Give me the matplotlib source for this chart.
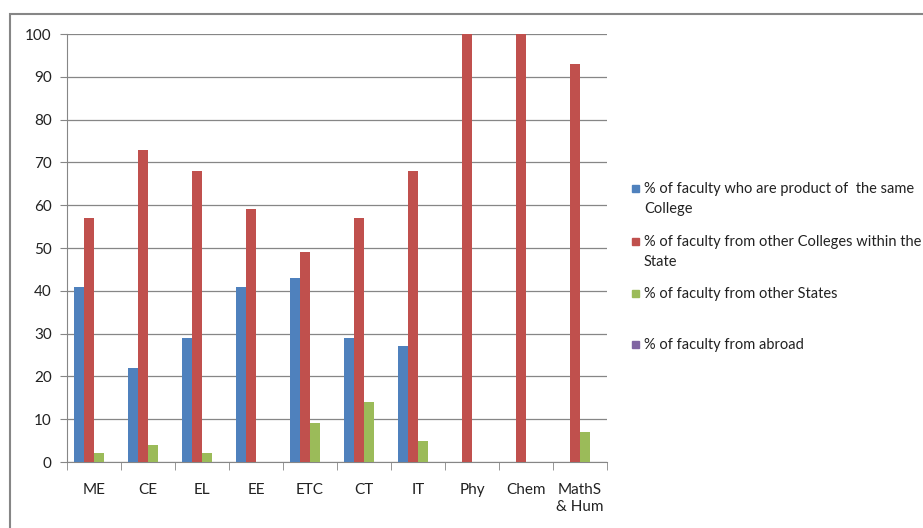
import matplotlib.pyplot as plt
from matplotlib.patches import Rectangle
import numpy as np

categories = ['ME', 'CE', 'EL', 'EE', 'ETC', 'CT', 'IT', 'Phy', 'Chem', 'MathS\n& Hum']
same_college = [41, 22, 29, 41, 43, 29, 27, 0, 0, 0]
other_colleges = [57, 73, 68, 59, 49, 57, 68, 100, 100, 93]
other_states = [2, 4, 2, 0, 9, 14, 5, 0, 0, 7]
abroad = [0, 0, 0, 0, 0, 0, 0, 0, 0, 0]

series_labels = ['% of faculty who are product of  the same\nCollege',
                 '% of faculty from other Colleges within the\nState',
                 '% of faculty from other States',
                 '% of faculty from abroad']
colors = ['#4F81BD', '#C0504D', '#9BBB59', '#8064A2']
series = [same_college, other_colleges, other_states, abroad]

plt.rcParams['font.family'] = ['Lato', 'DejaVu Sans']

fig = plt.figure(figsize=(9.23, 5.28), dpi=100, facecolor='white')
ax = fig.add_axes([67/923, 1 - 462/528, 540/923, 428/528])

x = np.arange(len(categories))
w = 1 / 5.5
for i, (vals, c) in enumerate(zip(series, colors)):
    ax.bar(x + (i - 1.5) * w, vals, width=w, color=c, zorder=3)

ax.set_xlim(-0.5, len(categories) - 0.5)
ax.set_ylim(0, 100)
ax.set_yticks(range(0, 101, 10))
ax.set_xticks(x)
ax.set_xticklabels(categories, fontsize=11, color='#222222', linespacing=1.3)
ax.tick_params(axis='x', length=0, pad=15)
ax.set_xticks(np.arange(-0.5, len(categories)), minor=True)
ax.tick_params(axis='x', which='minor', length=6, color='#868686', direction='out')
ax.tick_params(axis='y', length=5, color='#868686', labelsize=11, labelcolor='#222222', pad=6)
ax.yaxis.grid(True, color='#868686', linewidth=0.9, zorder=0)

for s in ['top', 'right']:
    ax.spines[s].set_visible(False)
ax.spines['left'].set_color('#868686')
ax.spines['bottom'].set_color('#868686')

# outer chart border
fig.patches.append(Rectangle((10/923, -0.1), 1.2, 1 - 14/528 + 0.1, transform=fig.transFigure,
                             fill=False, edgecolor='#868686', linewidth=1.5))

# legend
legend_y = [188, 241, 293, 344]
for lbl, c, yy in zip(series_labels, colors, legend_y):
    fig.patches.append(Rectangle((632/923, 1 - (yy + 4)/528), 7/923, 7/528,
                                 transform=fig.transFigure, color=c))
    fig.text(644/923, 1 - (yy - 6)/528, lbl, fontsize=10.5, color='#222222',
             va='top', ha='left', transform=fig.transFigure, linespacing=1.5)

fig.savefig('out.png', dpi=100)
